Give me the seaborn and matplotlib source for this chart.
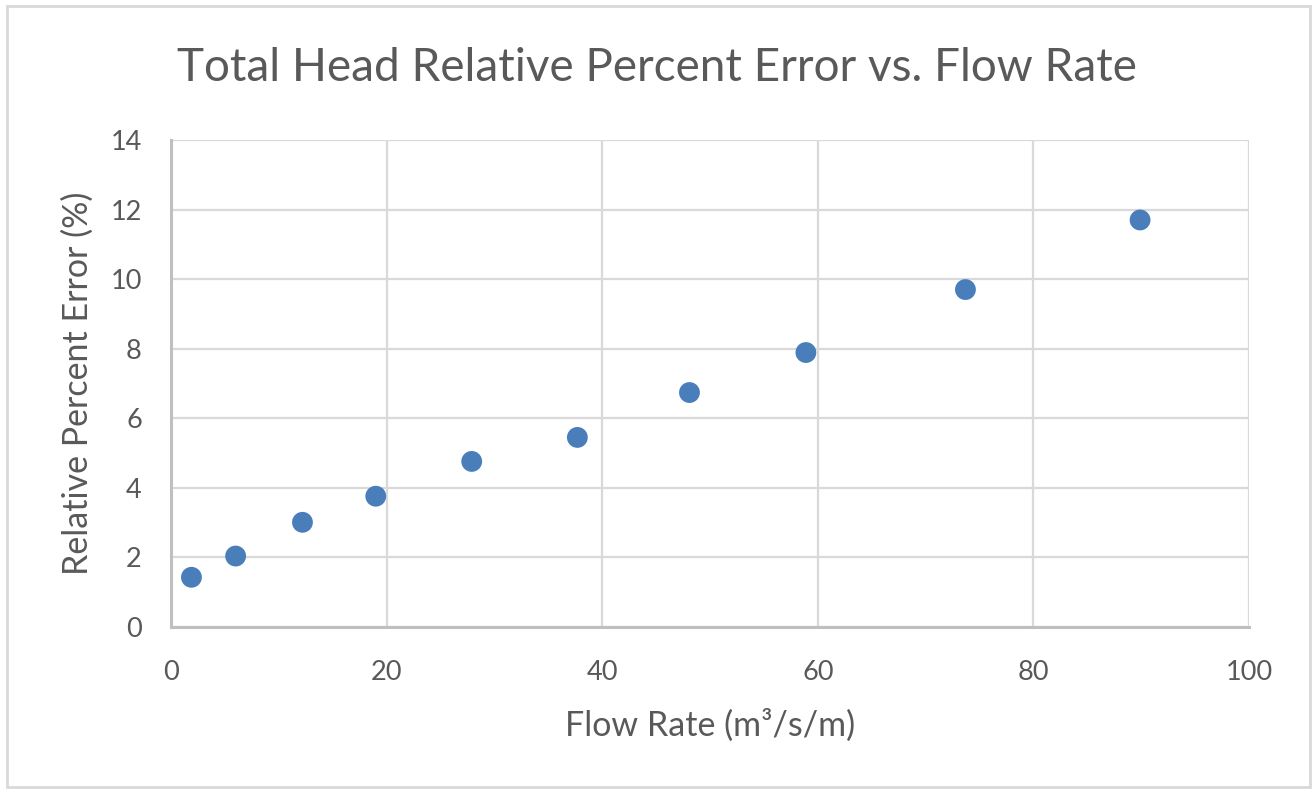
import matplotlib
matplotlib.use("Agg")
import matplotlib.pyplot as plt
import seaborn as sns
import pandas as pd

# ========= Data =========
flow_rate = [1.9, 6.0, 12.2, 19.0, 27.9, 37.7, 48.1, 58.9, 73.7, 89.9]
rel_error = [1.43, 2.04, 3.01, 3.76, 4.76, 5.45, 6.74, 7.89, 9.70, 11.70]
x_ticks = [0, 20, 40, 60, 80, 100]
y_ticks = [0, 2, 4, 6, 8, 10, 12, 14]

df = pd.DataFrame({"flow": flow_rate, "err": rel_error})

# ========= Plot =========
sns.set_style("white")
plt.rcParams["font.family"] = ["Lato", "DejaVu Sans"]
text_col = "#595959"

fig = plt.figure(figsize=(13.14, 7.89), dpi=100)
ax = fig.add_axes([0.1301, 0.2053, 0.8204, 0.6173])

sns.scatterplot(data=df, x="flow", y="err", ax=ax, color="#4A7EBB",
                s=225, edgecolor="none", zorder=3)

ax.set_xlim(0, 100)
ax.set_ylim(0, 14)
ax.set_xticks(x_ticks)
ax.set_yticks(y_ticks)
ax.grid(True, color="#D9D9D9", linewidth=1.6)
ax.set_axisbelow(True)
for side in ["top", "right"]:
    ax.spines[side].set_visible(False)
for side in ["left", "bottom"]:
    ax.spines[side].set_color("#BFBFBF")
    ax.spines[side].set_linewidth(2.2)
ax.tick_params(axis="both", length=0, labelsize=19.5, labelcolor=text_col)
ax.tick_params(axis="x", pad=24)
ax.tick_params(axis="y", pad=21)

ax.set_xlabel("Flow Rate (m³/s/m)", fontsize=24.5, color=text_col, va="center")
ax.set_ylabel("Relative Percent Error (%)", fontsize=24.5, color=text_col, va="center")
ax.xaxis.set_label_coords(0.5, -0.201)
ax.yaxis.set_label_coords(-0.0863, 0.5)
fig.text(0.5, 0.914, "Total Head Relative Percent Error vs. Flow Rate", fontsize=33,
         color=text_col, ha="center", va="center")

# outer chart border like the Excel chart area
fig.patches.append(plt.Rectangle((0.005, 0.003), 0.992, 0.99, transform=fig.transFigure,
                                 fill=False, edgecolor="#D9D9D9", linewidth=2))

fig.savefig("out.png", dpi=100)
